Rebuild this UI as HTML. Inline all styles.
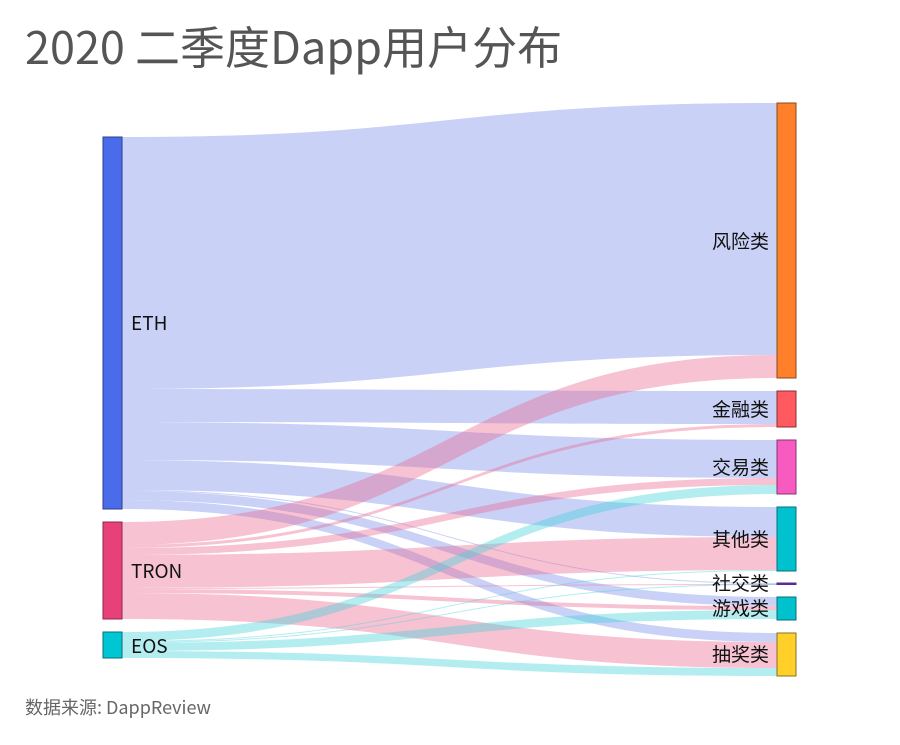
<!DOCTYPE html>
<html><head><meta charset="utf-8"><style>
body{margin:0;background:#fff;}
svg text{font-family:"Noto Sans CJK SC","Liberation Sans",sans-serif;}
</style></head><body>
<svg width="900" height="740" xmlns="http://www.w3.org/2000/svg">
<rect width="900" height="740" fill="#fff"/>
<text x="25" y="64" font-size="45" fill="#555">2020 二季度Dapp用户分布</text>
<g fill="rgba(120,140,235,0.4)">
<path d="M122 137C449.5 137 449.5 103 777 103L777 355C449.5 355 449.5 389 122 389Z"/>
<path d="M122 389C449.5 389 449.5 391 777 391L777 424C449.5 424 449.5 422 122 422Z"/>
<path d="M122 422C449.5 422 449.5 440 777 440L777 478C449.5 478 449.5 460 122 460Z"/>
<path d="M122 460C449.5 460 449.5 507 777 507L777 537C449.5 537 449.5 490 122 490Z"/>
<path d="M122 490C449.5 490 449.5 583 777 583L777 584C449.5 584 449.5 491 122 491Z"/>
<path d="M122 491C449.5 491 449.5 597 777 597L777 606C449.5 606 449.5 500 122 500Z"/>
<path d="M122 500C449.5 500 449.5 633 777 633L777 642C449.5 642 449.5 509 122 509Z"/>
</g>
<g fill="rgba(235,105,145,0.4)">
<path d="M122 522C449.5 522 449.5 355 777 355L777 378C449.5 378 449.5 545 122 545Z"/>
<path d="M122 545C449.5 545 449.5 424 777 424L777 427C449.5 427 449.5 548 122 548Z"/>
<path d="M122 548C449.5 548 449.5 478 777 478L777 485C449.5 485 449.5 555 122 555Z"/>
<path d="M122 555C449.5 555 449.5 537 777 537L777 570C449.5 570 449.5 588 122 588Z"/>
<path d="M122 588C449.5 588 449.5 584 777 584L777 585C449.5 585 449.5 589 122 589Z"/>
<path d="M122 589C449.5 589 449.5 606 777 606L777 610C449.5 610 449.5 593 122 593Z"/>
<path d="M122 593C449.5 593 449.5 642 777 642L777 668C449.5 668 449.5 619 122 619Z"/>
</g>
<g fill="rgba(65,210,218,0.4)">
<path d="M122 632C449.5 632 449.5 485 777 485L777 494C449.5 494 449.5 641 122 641Z"/>
<path d="M122 641C449.5 641 449.5 570 777 570L777 571C449.5 571 449.5 642 122 642Z"/>
<path d="M122 642C449.5 642 449.5 584 777 584L777 585C449.5 585 449.5 643 122 643Z"/>
<path d="M122 643C449.5 643 449.5 610 777 610L777 619C449.5 619 449.5 651 122 651Z"/>
<path d="M122 651C449.5 651 449.5 668 777 668L777 676C449.5 676 449.5 658 122 658Z"/>
</g>
<g stroke-width="1">
<rect x="103" y="137" width="19" height="372" fill="#4a6cea" stroke="#2c3f8a"/>
<rect x="103" y="522" width="19" height="97" fill="#e8417a" stroke="#8a2a4a"/>
<rect x="103" y="632" width="19" height="26" fill="#00c5d2" stroke="#0a6f76"/>
<rect x="777" y="103" width="19" height="275" fill="#ff7f2a" stroke="#8a4a1a"/>
<rect x="777" y="391" width="19" height="36" fill="#ff5a5f" stroke="#8a3033"/>
<rect x="777" y="440" width="19" height="54" fill="#f75bbf" stroke="#8a3370"/>
<rect x="777" y="507" width="19" height="64" fill="#00c2cf" stroke="#0a6f76"/>
<rect x="777" y="583" width="19" height="1.5" fill="#5b2c8f" stroke="#5b2c8f"/>
<rect x="777" y="597" width="19" height="23" fill="#00c2cf" stroke="#0a6f76"/>
<rect x="777" y="633" width="19" height="43" fill="#ffd02a" stroke="#8a7020"/>
</g>
<g font-size="19" fill="#111">
<text x="131" y="330">ETH</text>
<text x="131" y="578">TRON</text>
<text x="131" y="653">EOS</text>
<g text-anchor="end">
<text x="769" y="248">风险类</text>
<text x="769" y="416">金融类</text>
<text x="769" y="474">交易类</text>
<text x="769" y="546">其他类</text>
<text x="769" y="590">社交类</text>
<text x="769" y="615">游戏类</text>
<text x="769" y="661">抽奖类</text>
</g></g>
<text x="25" y="714" font-size="18" fill="#666">数据来源: DappReview</text>
</svg>
</body></html>
